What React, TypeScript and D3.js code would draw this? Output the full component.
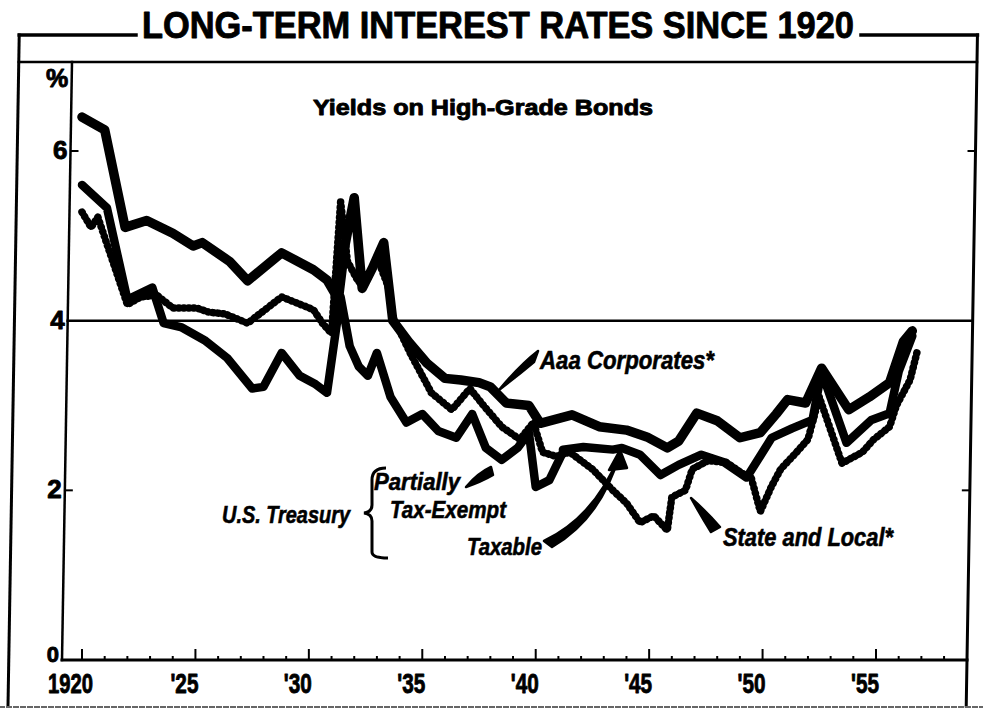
import React, { useEffect, useRef } from 'react';
import * as d3 from 'd3';

// yields, % per year
const aaaCorporates = [
  [1920.0, 6.4], [1921.0, 6.25], [1921.9, 5.1], [1922.85, 5.18], [1924.0, 5.03],
  [1924.9, 4.88], [1925.3, 4.92], [1926.5, 4.7], [1927.3, 4.47], [1928.8, 4.8],
  [1930.2, 4.6], [1930.8, 4.48], [1931.3, 4.25], [1931.6, 4.9], [1932.0, 5.45],
  [1932.35, 4.38], [1932.8, 4.62], [1933.3, 4.92], [1933.7, 4.0], [1934.4, 3.75],
  [1935.2, 3.5], [1936.0, 3.32], [1936.7, 3.3], [1937.5, 3.27], [1938.0, 3.22],
  [1938.7, 3.03], [1939.7, 3.0], [1940.2, 2.79], [1941.6, 2.89], [1942.8, 2.75],
  [1944.0, 2.71], [1944.9, 2.63], [1945.8, 2.5], [1946.3, 2.58], [1947.1, 2.91],
  [1948.0, 2.82], [1949.0, 2.62], [1949.9, 2.68], [1950.6, 2.9], [1951.1, 3.07],
  [1951.9, 3.03], [1952.6, 3.44], [1953.8, 2.95], [1954.7, 3.1], [1955.6, 3.27],
  [1956.2, 3.75], [1956.6, 3.88]
];

const treasuryPartiallyTaxExempt = [
  [1920.0, 5.6], [1921.1, 5.33], [1922.0, 4.25], [1923.1, 4.39], [1923.6, 3.97],
  [1924.4, 3.92], [1925.4, 3.77], [1926.4, 3.56], [1927.5, 3.2], [1928.0, 3.22],
  [1928.8, 3.62], [1929.6, 3.35], [1930.3, 3.25], [1930.8, 3.15], [1931.4, 4.28],
  [1931.8, 3.7], [1932.2, 3.46], [1932.6, 3.35], [1933.0, 3.62], [1933.6, 3.1],
  [1934.3, 2.8], [1935.0, 2.9], [1935.7, 2.7], [1936.5, 2.62], [1937.2, 2.9],
  [1937.8, 2.5], [1938.5, 2.36], [1939.2, 2.5], [1939.7, 2.68], [1940.0, 2.04],
  [1940.6, 2.12], [1941.2, 2.45]
];

const treasuryTaxable = [
  [1941.2, 2.48], [1942.1, 2.51], [1943.4, 2.48], [1943.8, 2.5], [1944.6, 2.42],
  [1945.5, 2.18], [1946.3, 2.3], [1947.3, 2.42], [1948.3, 2.33], [1949.3, 2.15],
  [1950.4, 2.62], [1951.3, 2.73], [1952.2, 2.83], [1952.6, 3.4], [1953.7, 2.56],
  [1954.8, 2.83], [1955.6, 2.91], [1956.0, 3.4], [1956.6, 3.82]
];

const stateAndLocal = [
  [1920.0, 5.28], [1920.4, 5.1], [1920.7, 5.22], [1922.0, 4.19], [1922.6, 4.28],
  [1923.3, 4.3], [1924.0, 4.15], [1925.05, 4.15], [1925.6, 4.1], [1926.3, 4.08],
  [1927.3, 3.97], [1928.8, 4.28], [1930.2, 4.13], [1930.6, 3.97], [1931.0, 3.85],
  [1931.4, 5.4], [1931.7, 4.7], [1932.2, 4.45], [1932.6, 4.5], [1933.0, 4.75],
  [1933.5, 4.4], [1933.7, 4.05], [1934.5, 3.6], [1935.4, 3.15], [1936.3, 2.95],
  [1937.1, 3.2], [1937.7, 3.0], [1938.5, 2.75], [1939.3, 2.6], [1939.9, 2.8],
  [1940.3, 2.45], [1940.9, 2.4], [1941.5, 2.45], [1942.5, 2.25], [1943.4, 2.0],
  [1944.0, 1.85], [1944.6, 1.62], [1945.2, 1.7], [1945.8, 1.53], [1946.0, 1.92],
  [1946.6, 2.0], [1946.9, 2.25], [1947.6, 2.35], [1948.4, 2.33], [1949.1, 2.2],
  [1949.5, 2.15], [1949.9, 1.75], [1950.4, 2.05], [1950.8, 2.25], [1951.5, 2.45],
  [1952.0, 2.6], [1952.5, 3.1], [1953.5, 2.32], [1954.4, 2.45], [1954.9, 2.6],
  [1955.6, 2.75], [1955.9, 3.0], [1956.5, 3.3], [1956.8, 3.62]
];

const yearTicks = d3.range(1920, 1959);
const yearLabels = [
  { year: 1920, label: '1920' }, { year: 1925, label: "'25" }, { year: 1930, label: "'30" },
  { year: 1935, label: "'35" }, { year: 1940, label: "'40" }, { year: 1945, label: "'45" },
  { year: 1950, label: "'50" }, { year: 1955, label: "'55" }
];
const valueLabels = [0, 2, 4, 6];

const FONT = '"Liberation Sans", Arial, sans-serif';

const Chart = () => {
  const container = useRef(null);
  const width = 983;
  const height = 711;

  const frame = { top: 35, inner: 62, bottom: 706, axis: 660 };
  const slant = 10 / 598; // the scan leans a little
  const leftAxisAt = y => 62 + (frame.axis - y) * slant;
  const outerLeftAt = y => 8 + (frame.bottom - y) * slant;
  const rightAt = y => 967 + (frame.axis - y) * slant;

  useEffect(() => {
    createChart();
  }, []);

  const createChart = () => {
    const svg = d3
      .select(container.current)
      .selectAll('svg')
      .data([0])
      .join('svg')
      .attr('width', width)
      .attr('height', height)
      .style('display', 'block')
      .style('background', '#fff');

    const xScale = d3.scaleLinear().domain([1920, 1955]).range([82, 876]);
    const yScale = d3.scaleLinear().domain([0, 7]).range([frame.axis, frame.axis - 7 * 84.83]);

    /* FRAME */
    const frameg = svg.selectAll('.frameg').data([0]).join('g').attr('class', 'frameg')
      .attr('stroke', '#000').attr('fill', 'none').attr('stroke-linecap', 'square');

    const frameLines = [
      // title rule pieces
      [outerLeftAt(frame.top), frame.top, 136, frame.top, 3.5],
      [861, frame.top, rightAt(frame.top), frame.top, 3.5],
      // outer sides
      [outerLeftAt(frame.top), frame.top, outerLeftAt(frame.bottom), frame.bottom, 3],
      [rightAt(frame.top), frame.top, rightAt(frame.bottom), frame.bottom, 3],
      // rule under the title band
      [outerLeftAt(frame.inner), frame.inner, rightAt(frame.inner), frame.inner, 2.5],
      // left axis
      [leftAxisAt(frame.inner), frame.inner, leftAxisAt(frame.axis), frame.axis, 2.5],
      // bottom axis
      [leftAxisAt(frame.axis), frame.axis, rightAt(frame.axis), frame.axis, 3],
      // 4 per cent rule
      [leftAxisAt(yScale(4)), yScale(4), rightAt(yScale(4)), yScale(4), 2.5]
    ];
    frameg.selectAll('.frame-line').data(frameLines).join('line')
      .attr('class', 'frame-line')
      .attr('x1', d => d[0]).attr('y1', d => d[1])
      .attr('x2', d => d[2]).attr('y2', d => d[3])
      .attr('stroke-width', d => d[4]);

    frameg.selectAll('.scan-edge').data([0]).join('line')
      .attr('class', 'scan-edge')
      .attr('x1', 0).attr('x2', width).attr('y1', 707).attr('y2', 707)
      .attr('stroke', '#666').attr('stroke-width', 2).attr('stroke-dasharray', '4 3');

    /* AXES */
    const ticksg = svg.selectAll('.ticksg').data([0]).join('g').attr('class', 'ticksg')
      .attr('stroke', '#000').attr('stroke-width', 2);

    ticksg.selectAll('.x-tick').data(yearTicks).join('line')
      .attr('class', 'x-tick')
      .attr('x1', d => xScale(d)).attr('x2', d => xScale(d))
      .attr('y1', frame.axis)
      .attr('y2', d => frame.axis - (d % 5 === 0 ? 11 : 4));

    const sideTicks = [2, 6];
    ticksg.selectAll('.y-tick-l').data(sideTicks).join('line')
      .attr('class', 'y-tick-l')
      .attr('x1', d => leftAxisAt(yScale(d))).attr('x2', d => leftAxisAt(yScale(d)) + 8)
      .attr('y1', d => yScale(d)).attr('y2', d => yScale(d));
    ticksg.selectAll('.y-tick-r').data(sideTicks).join('line')
      .attr('class', 'y-tick-r')
      .attr('x1', d => rightAt(yScale(d))).attr('x2', d => rightAt(yScale(d)) - 8)
      .attr('y1', d => yScale(d)).attr('y2', d => yScale(d));

    const labelg = svg.selectAll('.labelg').data([0]).join('g').attr('class', 'labelg')
      .attr('font-family', FONT).attr('font-weight', 'bold').attr('fill', '#000')
      .attr('stroke', '#000').attr('stroke-width', 0.9).attr('stroke-linejoin', 'round');

    labelg.selectAll('.x-label').data(yearLabels).join('text')
      .attr('class', 'x-label')
      .attr('x', d => (d.year === 1920 ? 48 : xScale(d.year) + 3))
      .attr('y', 693)
      .attr('text-anchor', d => (d.year === 1920 ? 'start' : 'end'))
      .attr('font-size', 28)
      .attr('textLength', d => (d.year === 1920 ? 45 : 28))
      .attr('lengthAdjust', 'spacingAndGlyphs')
      .text(d => d.label);

    labelg.selectAll('.y-label').data(valueLabels).join('text')
      .attr('class', 'y-label')
      .attr('x', d => leftAxisAt(yScale(d)) - 3)
      .attr('y', d => yScale(d) + (d === 0 ? 2 : 8))
      .attr('text-anchor', 'end')
      .attr('font-size', d => (d === 0 ? 22 : 26))
      .text(d => d);

    labelg.selectAll('.pct-label').data([0]).join('text')
      .attr('class', 'pct-label')
      .attr('x', 57).attr('y', 87)
      .attr('text-anchor', 'middle')
      .attr('font-size', 25)
      .text('%');

    /* TITLES */
    labelg.selectAll('.title-text').data([0]).join('text')
      .attr('class', 'title-text')
      .attr('x', 142).attr('y', 38)
      .attr('font-size', 37)
      .attr('textLength', 712)
      .attr('lengthAdjust', 'spacingAndGlyphs')
      .text('LONG-TERM INTEREST RATES SINCE 1920');

    labelg.selectAll('.subtitle-text').data([0]).join('text')
      .attr('class', 'subtitle-text')
      .attr('x', 313).attr('y', 115)
      .attr('font-size', 22)
      .attr('textLength', 340)
      .attr('lengthAdjust', 'spacingAndGlyphs')
      .text('Yields on High-Grade Bonds');

    /* SERIES */
    const line = d3.line().x(d => xScale(d[0])).y(d => yScale(d[1])).curve(d3.curveLinear);

    const plotg = svg.selectAll('.plotg').data([0]).join('g').attr('class', 'plotg')
      .attr('fill', 'none').attr('stroke', '#000')
      .attr('stroke-linejoin', 'round').attr('stroke-linecap', 'round');

    const solidSeries = [
      { key: 'aaa', data: aaaCorporates, w: 9.5 },
      { key: 'pte', data: treasuryPartiallyTaxExempt, w: 8.5 },
      { key: 'taxable', data: treasuryTaxable, w: 8.5 }
    ];
    plotg.selectAll('.series-line').data(solidSeries).join('path')
      .attr('class', 'series-line')
      .attr('d', d => line(d.data))
      .attr('stroke-width', d => d.w);

    // state and local is drawn as a beaded line
    plotg.selectAll('.sl-line').data([stateAndLocal]).join('path')
      .attr('class', 'sl-line')
      .attr('d', d => line(d))
      .attr('stroke-width', 5);
    plotg.selectAll('.sl-beads').data([stateAndLocal]).join('path')
      .attr('class', 'sl-beads')
      .attr('d', d => line(d))
      .attr('stroke-width', 7.5)
      .attr('stroke-dasharray', '0.5 4.5');

    /* ANNOTATIONS */
    const notesg = svg.selectAll('.notesg').data([0]).join('g').attr('class', 'notesg')
      .attr('font-family', FONT).attr('font-weight', 'bold').attr('font-style', 'italic')
      .attr('fill', '#000');

    const notes = [
      { text: 'Aaa Corporates*', x: 540, y: 369, size: 25, len: 174 },
      { text: 'U.S. Treasury', x: 222, y: 523, size: 24, len: 128 },
      { text: 'Partially', x: 374, y: 490, size: 24, len: 86 },
      { text: 'Tax-Exempt', x: 390, y: 518, size: 24, len: 116 },
      { text: 'Taxable', x: 467, y: 555, size: 24, len: 75 },
      { text: 'State and Local*', x: 723, y: 546, size: 25, len: 170 }
    ];
    notesg.selectAll('.note-text').data(notes).join('text')
      .attr('class', 'note-text')
      .attr('x', d => d.x).attr('y', d => d.y)
      .attr('font-size', d => d.size)
      .attr('textLength', d => d.len)
      .attr('lengthAdjust', 'spacingAndGlyphs')
      .attr('stroke', '#000').attr('stroke-width', 0.6)
      .text(d => d.text);

    // brace and pointers
    const braces = [
      'M386,468 Q372,468 372,480 L372,505 Q372,512 364,513 Q372,514 372,521 L372,552 Q372,558 388,558'
    ];
    notesg.selectAll('.brace').data(braces).join('path')
      .attr('class', 'brace')
      .attr('d', d => d)
      .attr('fill', 'none').attr('stroke', '#000').attr('stroke-width', 3);

    const wedges = [
      // Aaa pointer
      'M538,351 Q520,365 499,390 Q516,377 534,362 Z',
      // partially tax-exempt pointer
      'M491,467 Q478,473 466,487 Q481,482 493,475 Z',
      // taxable arrow, body and head
      'M544,541 C575,526 602,499 619,456 C606,501 581,530 552,547 Z',
      'M620,450 L609,470 L627,468 Z',
      // state and local pointer
      'M720,527 Q706,511 691,498 Q701,516 711,532 Z'
    ];
    notesg.selectAll('.wedge').data(wedges).join('path')
      .attr('class', 'wedge')
      .attr('d', d => d)
      .attr('stroke', '#000').attr('stroke-width', 2.5).attr('stroke-linejoin', 'round');
  };

  return <div ref={container} style={{ position: 'absolute', left: 0, top: 0 }}></div>;
};

export default function App() {
  return <Chart />;
}
